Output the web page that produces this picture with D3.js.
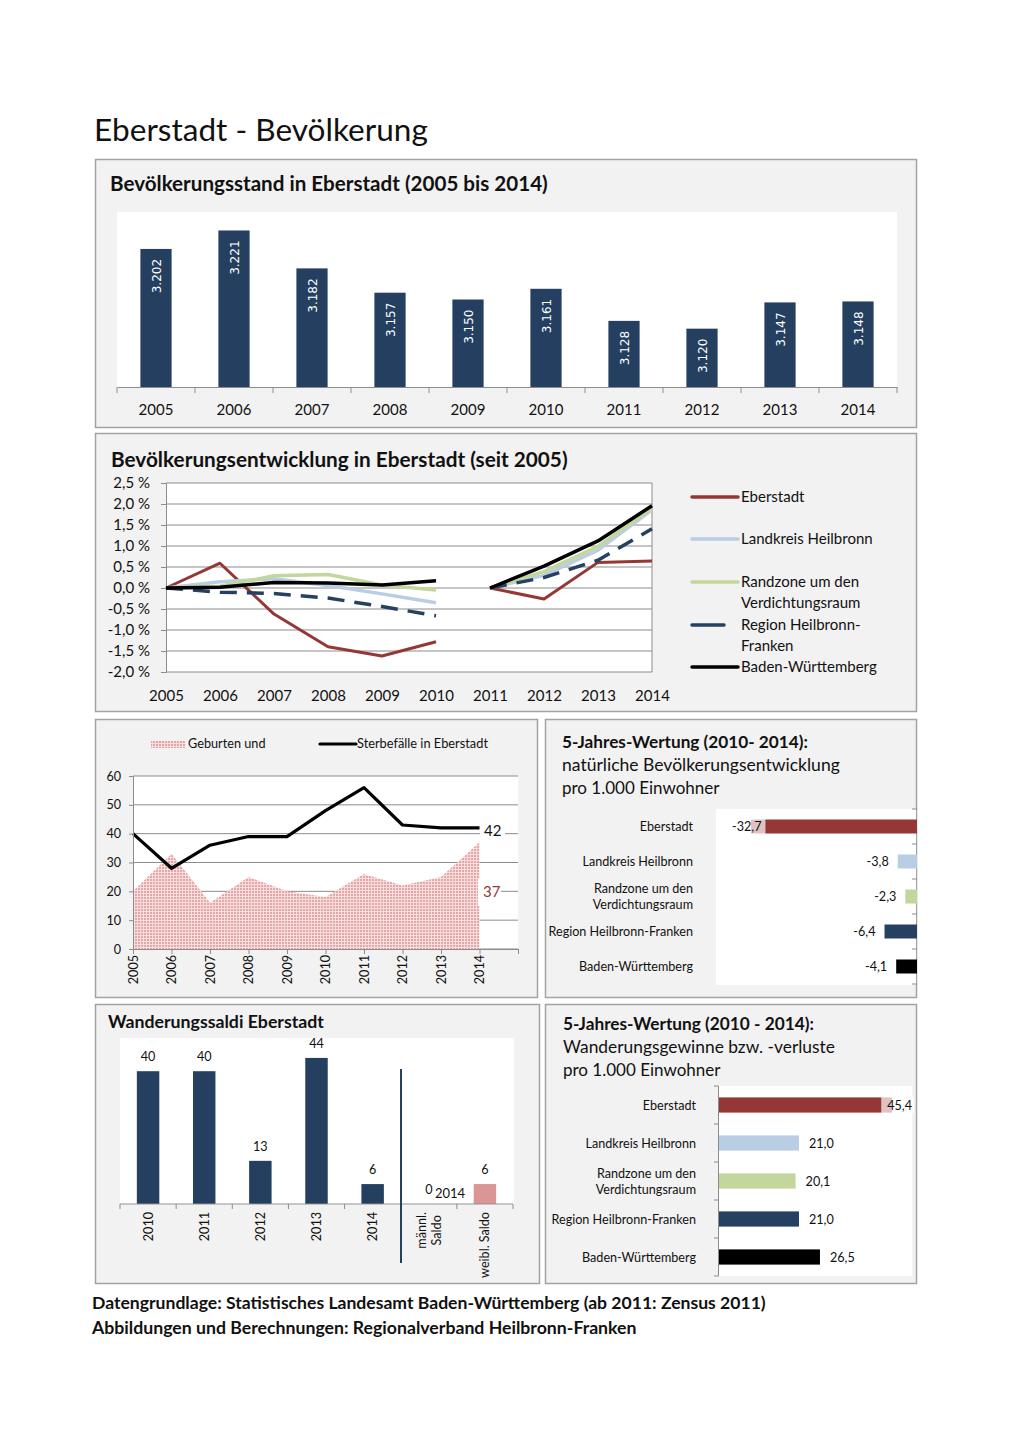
<!DOCTYPE html>
<html><head><meta charset="utf-8">
<script src="https://cdn.jsdelivr.net/npm/d3@7"></script>
<style>
body{margin:0;background:#fff}
svg{display:block}
text{font-family:Lato,"Open Sans",sans-serif;fill:#111}
</style>
</head><body>
<svg id="c" width="1020" height="1443"></svg>
<script>
// ---------- DATA ----------
const years = ["2005","2006","2007","2008","2009","2010","2011","2012","2013","2014"];
const population = [3202,3221,3182,3157,3150,3161,3128,3120,3147,3148];

const devSeriesNames = ["Eberstadt","Landkreis Heilbronn","Randzone um den Verdichtungsraum","Region Heilbronn-Franken","Baden-Württemberg"];
const devEberstadt = [0,0.59,-0.62,-1.40,-1.62,-1.28, 0,-0.26,0.61,0.64];
const devLandkreis = [0,0.15,0.22,0.06,-0.14,-0.35, 0,0.30,0.90,1.86];
const devRandzone  = [0,0.04,0.29,0.32,0.07,-0.05, 0,0.39,0.99,1.90];
const devRegion    = [0,-0.10,-0.13,-0.24,-0.44,-0.66, 0,0.25,0.66,1.41];
const devBW        = [0,0.02,0.13,0.12,0.07,0.17, 0,0.52,1.12,1.96];
const devTicks = [-2,-1.5,-1,-0.5,0,0.5,1,1.5,2,2.5];

const births = [20,33,16,25,20,18,26,22,25,37];
const deaths = [40,28,36,39,39,48,56,43,42,42];
const bdTicks = [0,10,20,30,40,50,60];

const regionNames = ["Eberstadt","Landkreis Heilbronn","Randzone um den Verdichtungsraum","Region Heilbronn-Franken","Baden-Württemberg"];
const regionLabelLines = [["Eberstadt"],["Landkreis Heilbronn"],["Randzone um den","Verdichtungsraum"],["Region Heilbronn-Franken"],["Baden-Württemberg"]];
const naturalValues = [-32.7,-3.8,-2.3,-6.4,-4.1];
const migrationRateValues = [45.4,21.0,20.1,21.0,26.5];

const migCategories = ["2010","2011","2012","2013","2014","männl. Saldo","weibl. Saldo"];
const migTickLines = [["2010"],["2011"],["2012"],["2013"],["2014"],["männl.","Saldo"],["weibl. Saldo"]];
const migValues = [40,40,13,44,6,0,6];

// ---------- STYLE ----------
const regionColors = ["#953735","#b9cde5","#c3d69b","#254061","#000000"];
const navy = "#243f60";
const grid = "#8c8c8c";
const SMALL = 12.6;
const fmtDE = (v,d) => (v<0?"-":"") + Math.abs(v).toFixed(d).replace(".",",");
const fmtThousand = v => String(v).replace(/\B(?=(\d{3})+(?!\d))/g,".");

const svg = d3.select("#c");
const defs = svg.append("defs");
const pat = defs.append("pattern").attr("id","dots").attr("width",3).attr("height",3).attr("patternUnits","userSpaceOnUse");
pat.append("rect").attr("width",3).attr("height",3).attr("fill","#f8dede");
pat.append("rect").attr("width",2).attr("height",2).attr("fill","#e4a6a6");

function panel(x,y,w,h){
  svg.append("rect").attr("x",x).attr("y",y).attr("width",w).attr("height",h)
    .attr("fill","#f2f2f2").attr("stroke","#a3a3a3").attr("stroke-width",1.5);
}
function txt(g,x,y,s,size,opts={}){
  const t = g.append("text").attr("x",x).attr("y",y).text(s).style("font-size",size+"px");
  if(opts.bold) t.style("font-weight","bold");
  if(opts.anchor) t.attr("text-anchor",opts.anchor);
  if(opts.fill) t.style("fill",opts.fill);
  if(opts.family) t.style("font-family",opts.family);
  if(opts.width){ const w=t.node().getComputedTextLength(); t.style("font-size",(size*opts.width/w)+"px"); }
  return t;
}

// ---------- Page title ----------
txt(svg,94,141,"Eberstadt - Bevölkerung",31,{width:334});

// ---------- Panel 1 ----------
panel(95.5,159.5,821,268);
txt(svg,110,191,"Bevölkerungsstand in Eberstadt (2005 bis 2014)",19,{bold:true,width:438});
svg.append("rect").attr("x",117).attr("y",212).attr("width",780).attr("height",176).attr("fill","#fff");
{
  const x = d3.scaleBand().domain(years).range([117,897]).paddingInner(0.6).paddingOuter(0.3);
  const y = d3.scaleLinear().domain([3060,3240]).range([387,212]);
  const g = svg.append("g");
  g.selectAll("rect.b").data(population).join("rect")
    .attr("x",(d,i)=>x(years[i])).attr("width",x.bandwidth())
    .attr("y",d=>y(d)).attr("height",d=>y(3060)-y(d)).attr("fill",navy);
  g.selectAll("text.v").data(population).join("text")
    .attr("transform",(d,i)=>`translate(${x(years[i])+x.bandwidth()/2+4.5},${y(d)+10}) rotate(-90)`)
    .attr("text-anchor","end").style("font-size","12px").style("font-family","'DejaVu Sans'").style("fill","#fff")
    .text(d=>fmtThousand(d));
  const ax = g.append("g").attr("transform","translate(0,387)").call(d3.axisBottom(x).tickSize(0).tickPadding(17));
  ax.select(".domain").attr("stroke",grid);
  ax.selectAll("text").style("font-size","15px").style("font-family","Lato").attr("fill","#111");
  const step = x.step();
  g.selectAll("line.t").data(d3.range(11)).join("line")
    .attr("x1",i=>117+i*step).attr("x2",i=>117+i*step).attr("y1",387).attr("y2",393).attr("stroke",grid);
}

// ---------- Panel 2 ----------
panel(95.5,433.5,821,278);
txt(svg,111,467,"Bevölkerungsentwicklung in Eberstadt (seit 2005)",19,{bold:true,width:457});
{
  const x = d3.scalePoint().domain(years).range([166,652]);
  const y = d3.scaleLinear().domain([-2,2.5]).range([672,483]);
  const g = svg.append("g");
  g.append("rect").attr("x",166).attr("y",483).attr("width",486).attr("height",189).attr("fill","#fff");
  g.selectAll("line.g").data(devTicks).join("line")
    .attr("x1",166).attr("x2",652).attr("y1",d=>y(d)).attr("y2",d=>y(d)).attr("stroke",grid).attr("stroke-width",1);
  g.append("line").attr("x1",652).attr("x2",652).attr("y1",483).attr("y2",672).attr("stroke",grid);
  const ay = g.append("g").attr("transform","translate(166,0)")
    .call(d3.axisLeft(y).tickValues(devTicks).tickSize(5).tickPadding(11).tickFormat(v=>fmtDE(v,1)+" %"));
  ay.select(".domain").attr("stroke",grid);
  ay.selectAll("line").attr("stroke",grid);
  ay.selectAll("text").style("font-size","15px").style("font-family","Lato").attr("fill","#111");
  const axx = g.append("g").attr("transform","translate(0,672)").call(d3.axisBottom(x).tickSize(0).tickPadding(18));
  axx.select(".domain").remove();
  axx.selectAll("text").style("font-size","15px").style("font-family","Lato").attr("fill","#111");

  const series = [devEberstadt,devLandkreis,devRandzone,devRegion,devBW];
  const widths = [3,3.5,3.5,3.5,3.5];
  const line = d3.line().x(d=>x(d.year)).y(d=>y(d.v));
  series.forEach((s,k)=>{
    const pts = s.map((v,i)=>({year:years[i],v}));
    [pts.slice(0,6),pts.slice(6)].forEach(seg=>{
      g.append("path").attr("d",line(seg)).attr("fill","none").attr("stroke",regionColors[k])
        .attr("stroke-width",widths[k]).attr("stroke-linejoin","round")
        .attr("stroke-dasharray",k===3?"17,10":null);
    });
  });
  // legend
  const legLines = [["Eberstadt"],["Landkreis Heilbronn"],["Randzone um den","Verdichtungsraum"],["Region Heilbronn-","Franken"],["Baden-Württemberg"]];
  const legY = [497,539,582,625,667];
  legLines.forEach((ls,k)=>{
    g.append("line").attr("x1",692).attr("x2",k===3?724:738).attr("y1",legY[k]).attr("y2",legY[k])
      .attr("stroke",regionColors[k]).attr("stroke-width",3.5).attr("stroke-linecap","round");
    ls.forEach((l,j)=>txt(g,741,legY[k]+5+j*21,l,15));
  });
}

// ---------- Panel 3 ----------
panel(95.5,719.5,442,278);
{
  const g = svg.append("g");
  const x = d3.scaleLinear().domain([0,10]).range([133,518]);
  const y = d3.scaleLinear().domain([0,60]).range([949,776]);
  g.append("rect").attr("x",133).attr("y",776).attr("width",385).attr("height",173).attr("fill","#fff");
  g.selectAll("line.g").data(bdTicks).join("line")
    .attr("x1",133).attr("x2",518).attr("y1",d=>y(d)).attr("y2",d=>y(d)).attr("stroke",grid);
  g.append("path").datum(births)
    .attr("d",d3.area().x((d,i)=>x(i)).y0(y(0)).y1(d=>y(d)))
    .attr("fill","url(#dots)");
  g.append("path").datum(deaths)
    .attr("d",d3.line().x((d,i)=>x(i)).y(d=>y(d)))
    .attr("fill","none").attr("stroke","#000").attr("stroke-width",3.2).attr("stroke-linejoin","round");
  const ay = g.append("g").attr("transform","translate(133,0)").call(d3.axisLeft(y).tickValues(bdTicks).tickSize(4).tickPadding(8));
  ay.select(".domain").attr("stroke",grid); ay.selectAll("line").attr("stroke",grid);
  ay.selectAll("text").style("font-size",SMALL+"px").style("font-family","Lato").attr("fill","#111");
  const ax = g.append("g").attr("transform","translate(0,949)").call(d3.axisBottom(x).ticks(10).tickSize(5).tickFormat(""));
  ax.select(".domain").attr("stroke",grid); ax.selectAll("line").attr("stroke",grid);
  g.selectAll("text.xl").data(years).join("text")
    .attr("transform",(d,i)=>`translate(${x(i)+4.5},955) rotate(-90)`).attr("text-anchor","end")
    .style("font-size",SMALL+"px").text(d=>d);
  // end labels
  const last = years.length-1;
  g.append("rect").attr("x",480).attr("y",821).attr("width",25).attr("height",19).attr("fill","#fff");
  txt(g,484,836,String(deaths[last]),15);
  g.append("rect").attr("x",478).attr("y",879).attr("width",23).attr("height",27).attr("fill","#fff");
  txt(g,483,897,String(births[last]),15,{fill:"#953735"});
  // legend
  g.append("rect").attr("x",151).attr("y",741).attr("width",34).attr("height",7).attr("fill","url(#dots)");
  txt(g,188,748,"Geburten und",12.7);
  g.append("line").attr("x1",320).attr("x2",356).attr("y1",744).attr("y2",744).attr("stroke","#000").attr("stroke-width",3.2).attr("stroke-linecap","round");
  txt(g,357,748,"Sterbefälle in Eberstadt",12.7,{width:131});
}

// ---------- Panel 4 ----------
panel(545.5,719.5,371,278);
txt(svg,562,748,"5-Jahres-Wertung (2010- 2014):",17,{bold:true,width:246});
txt(svg,562,771,"natürliche Bevölkerungsentwicklung",17,{width:278});
txt(svg,562,794,"pro 1.000 Einwohner",17);
{
  const g = svg.append("g");
  const x = d3.scaleLinear().domain([-40,0]).range([714,917]);
  const y = d3.scaleBand().domain(regionNames).range([809,984]).paddingInner(0.6).paddingOuter(0.3);
  g.append("rect").attr("x",716).attr("y",809).attr("width",200).attr("height",176).attr("fill","#fff");
  g.selectAll("rect.b").data(naturalValues).join("rect")
    .attr("x",d=>x(d)).attr("width",d=>x(0)-x(d)).attr("y",(d,i)=>y(regionNames[i])).attr("height",y.bandwidth())
    .attr("fill",(d,i)=>regionColors[i]);
  naturalValues.forEach((v,i)=>{
    const cy = y(regionNames[i])+y.bandwidth()/2;
    const t = txt(g,0,cy+4.5,fmtDE(v,1),SMALL);
    const w = t.node().getComputedTextLength();
    let start = x(v)-9-w;
    if(start < 732) start = 732;
    t.attr("x",start);
    if(start+w+4 > x(v)){
      g.insert("rect",()=>t.node()).attr("x",start-3).attr("y",cy-8).attr("width",w+7).attr("height",16)
        .attr("fill","#fff").attr("fill-opacity",0.7);
    }
    regionLabelLines[i].forEach((l,j,arr)=>txt(g,693,cy+4.5+(j-(arr.length-1)/2)*16,l,SMALL,{anchor:"end"}));
  });
  const step = y.step();
  g.selectAll("line.t").data(d3.range(6)).join("line")
    .attr("x1",912).attr("x2",917).attr("y1",i=>809+i*step).attr("y2",i=>809+i*step).attr("stroke",grid);
}

// ---------- Panel 5 ----------
panel(95.5,1004.5,444,279);
txt(svg,108,1028,"Wanderungssaldi Eberstadt",17,{bold:true,width:216});
{
  const g = svg.append("g");
  const x = d3.scaleBand().domain(migCategories).range([120,513]).paddingInner(0.6).paddingOuter(0.3);
  const y = d3.scaleLinear().domain([0,50]).range([1204,1038]);
  g.append("rect").attr("x",120).attr("y",1038).attr("width",394).attr("height",167).attr("fill","#fff");
  g.selectAll("rect.b").data(migValues).join("rect")
    .attr("x",(d,i)=>x(migCategories[i])).attr("width",x.bandwidth())
    .attr("y",d=>y(d)).attr("height",d=>y(0)-y(d))
    .attr("fill",(d,i)=>i===6?"#d99694":navy);
  g.selectAll("text.v").data(migValues).join("text")
    .attr("x",(d,i)=>x(migCategories[i])+x.bandwidth()/2).attr("y",d=>y(d)-10)
    .attr("text-anchor","middle").style("font-size",SMALL+"px").text(d=>d);
  txt(g,450,1198,"2014",13,{anchor:"middle"});
  g.append("line").attr("x1",120).attr("x2",513).attr("y1",1204).attr("y2",1204).attr("stroke",grid);
  const step = x.step();
  g.selectAll("line.t").data(d3.range(8)).join("line")
    .attr("x1",i=>120+i*step).attr("x2",i=>120+i*step).attr("y1",1204).attr("y2",1209).attr("stroke",grid);
  g.append("line").attr("x1",401).attr("x2",401).attr("y1",1069).attr("y2",1263).attr("stroke","#254061").attr("stroke-width",2);
  migTickLines.forEach((ls,i)=>{
    const cx = x(migCategories[i])+x.bandwidth()/2;
    const ts = ls.map((l,j)=>g.append("text").style("font-size",SMALL+"px").text(l));
    const maxW = d3.max(ts,t=>t.node().getComputedTextLength());
    ts.forEach((t,j)=>{
      const lx = cx + 4.5 + (j-(ls.length-1)/2)*15;
      t.attr("text-anchor","middle").attr("transform",`translate(${lx},${1212+maxW/2}) rotate(-90)`);
    });
  });
}

// ---------- Panel 6 ----------
panel(545.5,1004.5,371,279);
txt(svg,563,1030,"5-Jahres-Wertung (2010 - 2014):",17,{bold:true,width:251});
txt(svg,563,1053,"Wanderungsgewinne bzw. -verluste",17,{width:272});
txt(svg,563,1076,"pro 1.000 Einwohner",17);
{
  const g = svg.append("g");
  const x = d3.scaleLinear().domain([0,50]).range([719,909.5]);
  const y = d3.scaleBand().domain(regionNames).range([1086,1276]).paddingInner(0.6).paddingOuter(0.3);
  g.append("rect").attr("x",719).attr("y",1086).attr("width",193).attr("height",190).attr("fill","#fff");
  g.selectAll("rect.b").data(migrationRateValues).join("rect")
    .attr("x",x(0)).attr("width",d=>x(d)-x(0)).attr("y",(d,i)=>y(regionNames[i])).attr("height",y.bandwidth())
    .attr("fill",(d,i)=>regionColors[i]);
  migrationRateValues.forEach((v,i)=>{
    const cy = y(regionNames[i])+y.bandwidth()/2;
    const t = txt(g,0,cy+4.5,fmtDE(v,1),SMALL);
    const w = t.node().getComputedTextLength();
    let start = x(v)+10;
    if(start+w > 912) start = 912-w;
    t.attr("x",start);
    if(start-3 < x(v)){
      g.insert("rect",()=>t.node()).attr("x",start-6).attr("y",cy-8).attr("width",w+8).attr("height",16)
        .attr("fill","#fff").attr("fill-opacity",0.7);
    }
    regionLabelLines[i].forEach((l,j,arr)=>txt(g,696,cy+4.5+(j-(arr.length-1)/2)*16,l,SMALL,{anchor:"end"}));
  });
  g.append("line").attr("x1",718.5).attr("x2",718.5).attr("y1",1086).attr("y2",1276).attr("stroke",grid);
  const step = y.step();
  g.selectAll("line.t").data(d3.range(6)).join("line")
    .attr("x1",714).attr("x2",718.5).attr("y1",i=>1086+i*step).attr("y2",i=>1086+i*step).attr("stroke",grid);
}

// ---------- Footer ----------
txt(svg,92,1309,"Datengrundlage: Statistisches Landesamt Baden-Württemberg (ab 2011: Zensus 2011)",16,{bold:true,width:674});
txt(svg,92,1334,"Abbildungen und Berechnungen: Regionalverband Heilbronn-Franken",16,{bold:true,width:545});
</script>
</body></html>
